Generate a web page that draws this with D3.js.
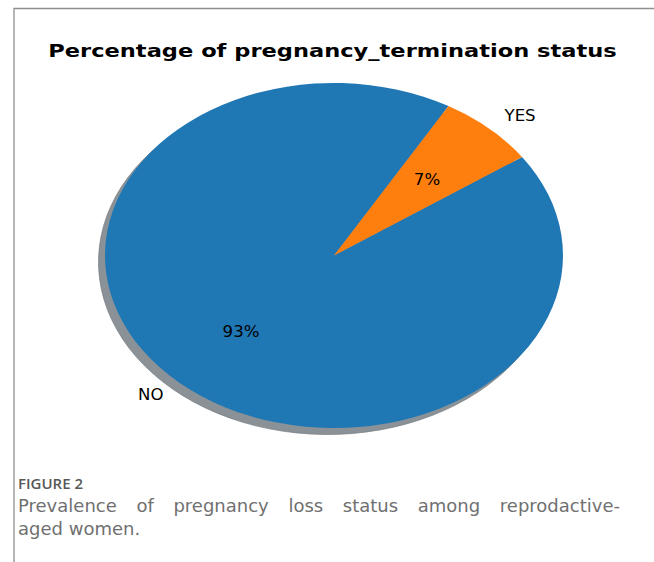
<!DOCTYPE html>
<html>
<head>
<meta charset="utf-8">
<script src="https://cdn.jsdelivr.net/npm/d3@7"></script>
<style>
  html, body { margin: 0; padding: 0; background: #fff; }
  svg { display: block; }
</style>
</head>
<body>
<svg id="fig" width="654" height="562"></svg>
<script>
// Pregnancy termination status shares
const categories = ["NO", "YES"];
const shares = [93, 7];
const sliceColors = ["#1f77b4", "#ff7f0e"];
const titleText = "Percentage of pregnancy_termination status";
const figureLabel = "FIGURE 2";
const captionLines = [
  ["Prevalence", "of", "pregnancy", "loss", "status", "among", "reprodactive-"],
  ["aged", "women."]
];

const svg = d3.select("#fig");

// frame lines (top and left)
svg.append("path")
  .attr("d", `M14,562 L14,8.5 L654,8.5`)
  .attr("fill", "none")
  .attr("stroke", "#8e8e8e")
  .attr("stroke-width", 1.3);

// title, stretched to its span
const title = svg.append("text")
  .attr("font-family", "DejaVu Sans")
  .attr("font-weight", "bold")
  .attr("font-size", 17.5)
  .attr("text-anchor", "middle")
  .attr("fill", "#000")
  .text(titleText);
{
  const len = title.node().getComputedTextLength();
  const target = 569;
  title.attr("transform", `translate(332.5,56.5) scale(${target / len},1)`);
}

// pie geometry: elliptical (horizontally stretched) disc
const cx = 334, cy = 255.5, ry = 172.5, sx = 229 / 172.5;
const r = d3.scaleLinear().domain([0, 1]).range([0, ry]);

// start at 60° counter-clockwise from 3 o'clock, run counter-clockwise
const start = (90 - 60) * Math.PI / 180;
const pie = d3.pie().sort(null).startAngle(start).endAngle(start - 2 * Math.PI);
const arcs = pie(shares);
const arc = d3.arc().innerRadius(0).outerRadius(r(1));

const g = svg.append("g").attr("transform", `translate(${cx},${cy}) scale(${sx},1)`);

// drop shadow under the wedges
g.append("g")
  .attr("transform", `translate(${-6.5 / sx},6.5)`)
  .selectAll("path")
  .data(arcs)
  .join("path")
  .attr("d", arc)
  .attr("fill", "#8a9298")
  .attr("stroke", "#737a80")
  .attr("stroke-width", 0.6);

g.append("g")
  .selectAll("path")
  .data(arcs)
  .join("path")
  .attr("d", arc)
  .attr("fill", (d, i) => sliceColors[i]);

// polar helper in screen space
function pos(d, frac) {
  const a = (d.startAngle + d.endAngle) / 2;
  return [cx + Math.sin(a) * r(frac) * sx, cy - Math.cos(a) * r(frac)];
}

const labelFont = { family: "DejaVu Sans", size: 15.5 };

// category labels at 1.1 radius
arcs.forEach((d, i) => {
  const [x, y] = pos(d, 1.1);
  svg.append("text")
    .attr("transform", `translate(${x},${y}) scale(1.07,1)`)
    .attr("font-family", labelFont.family)
    .attr("font-size", labelFont.size)
    .attr("text-anchor", x >= cx ? "start" : "end")
    .attr("dominant-baseline", "central")
    .attr("fill", "#000")
    .text(categories[i]);
});

// percentage labels at 0.6 radius
arcs.forEach((d, i) => {
  const [x, y] = pos(d, 0.6);
  svg.append("text")
    .attr("transform", `translate(${x},${y}) scale(1.07,1)`)
    .attr("font-family", labelFont.family)
    .attr("font-size", labelFont.size)
    .attr("text-anchor", "middle")
    .attr("dominant-baseline", "central")
    .attr("fill", "#000")
    .text(d3.format(".0f")(shares[i]) + "%");
});

// caption
const capLeft = 18, capRight = 620;
svg.append("text")
  .attr("x", capLeft).attr("y", 489)
  .attr("font-family", "Open Sans")
  .attr("font-weight", 600)
  .attr("font-size", 15)
  .attr("fill", "#575757")
  .text(figureLabel);

const capSize = 18;
const lineY = [512, 535];
captionLines.forEach((words, li) => {
  const justify = li < captionLines.length - 1;
  const nodes = words.map(w => svg.append("text")
    .attr("y", lineY[li])
    .attr("font-family", "DejaVu Sans")
    .attr("font-size", capSize)
    .attr("fill", "#707070")
    .text(w));
  const widths = nodes.map(n => n.node().getComputedTextLength());
  const total = d3.sum(widths);
  const gap = justify ? (capRight - capLeft - total) / (words.length - 1) : capSize * 0.318;
  let x = capLeft;
  nodes.forEach((n, k) => { n.attr("x", x); x += widths[k] + gap; });
});
</script>
</body>
</html>
